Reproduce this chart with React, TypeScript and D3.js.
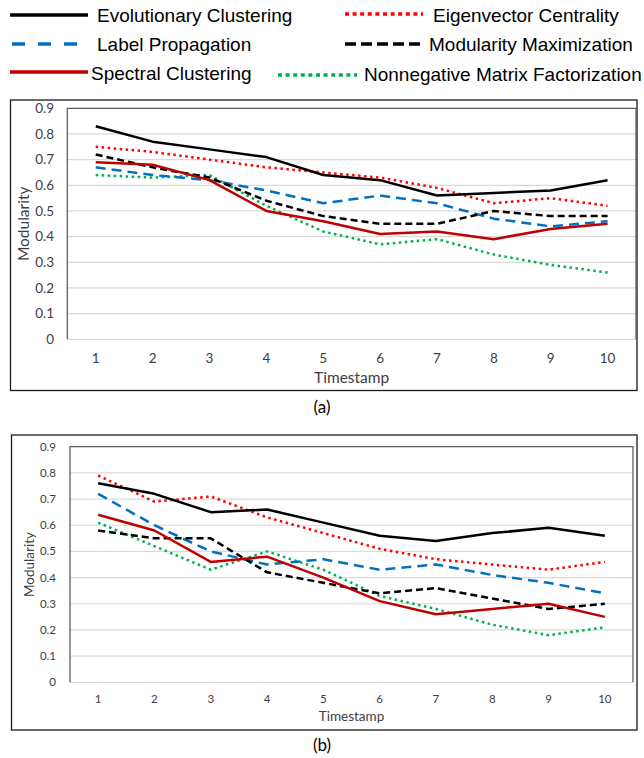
import React from "react";
import * as d3 from "d3";

const timestamps = [1, 2, 3, 4, 5, 6, 7, 8, 9, 10];
const yTicks = [0, 0.1, 0.2, 0.3, 0.4, 0.5, 0.6, 0.7, 0.8, 0.9];

// chart (a)
const evolutionaryA = [0.83, 0.77, 0.74, 0.71, 0.64, 0.62, 0.56, 0.57, 0.58, 0.62];
const eigenvectorA = [0.75, 0.73, 0.70, 0.67, 0.65, 0.63, 0.59, 0.53, 0.55, 0.52];
const labelPropA = [0.67, 0.64, 0.62, 0.58, 0.53, 0.56, 0.53, 0.47, 0.44, 0.46];
const modMaxA = [0.72, 0.67, 0.63, 0.54, 0.48, 0.45, 0.45, 0.50, 0.48, 0.48];
const spectralA = [0.69, 0.68, 0.62, 0.50, 0.46, 0.41, 0.42, 0.39, 0.43, 0.45];
const nmfA = [0.64, 0.63, 0.64, 0.52, 0.42, 0.37, 0.39, 0.33, 0.29, 0.26];

// chart (b)
const evolutionaryB = [0.76, 0.72, 0.65, 0.66, 0.61, 0.56, 0.54, 0.57, 0.59, 0.56];
const eigenvectorB = [0.79, 0.69, 0.71, 0.63, 0.57, 0.51, 0.47, 0.45, 0.43, 0.46];
const labelPropB = [0.72, 0.60, 0.50, 0.45, 0.47, 0.43, 0.45, 0.41, 0.38, 0.34];
const modMaxB = [0.58, 0.55, 0.55, 0.42, 0.38, 0.34, 0.36, 0.32, 0.28, 0.30];
const spectralB = [0.64, 0.58, 0.46, 0.48, 0.40, 0.31, 0.26, 0.28, 0.30, 0.25];
const nmfB = [0.61, 0.52, 0.43, 0.50, 0.43, 0.33, 0.28, 0.22, 0.18, 0.21];

type Style = { color: string; dash?: string; legendDash?: string };

const styles: Record<string, Style> = {
    "Evolutionary Clustering": {color: "#000000"},
    "Label Propagation": {color: "#0070c0", dash: "10,6", legendDash: "13,13"},
    "Spectral Clustering": {color: "#c00000"},
    "Eigenvector Centrality": {color: "#ff0000", dash: "2.5,3.5", legendDash: "4,3.6"},
    "Modularity Maximization": {color: "#000000", dash: "7,4", legendDash: "11,5"},
    "Nonnegative Matrix Factorization": {color: "#00b050", dash: "2.5,3.5", legendDash: "4,3.6"},
};

// draw order (bottom first)
const seriesA: [string, number[]][] = [
    ["Nonnegative Matrix Factorization", nmfA],
    ["Label Propagation", labelPropA],
    ["Modularity Maximization", modMaxA],
    ["Spectral Clustering", spectralA],
    ["Eigenvector Centrality", eigenvectorA],
    ["Evolutionary Clustering", evolutionaryA],
];
const seriesB: [string, number[]][] = [
    ["Nonnegative Matrix Factorization", nmfB],
    ["Label Propagation", labelPropB],
    ["Modularity Maximization", modMaxB],
    ["Spectral Clustering", spectralB],
    ["Eigenvector Centrality", eigenvectorB],
    ["Evolutionary Clustering", evolutionaryB],
];

const legendItems = [
    {name: "Evolutionary Clustering", x1: 10, x2: 88, ly: 15, tx: 97, ty: 21.5},
    {name: "Label Propagation", x1: 12, x2: 80, ly: 44, tx: 97, ty: 50.5},
    {name: "Spectral Clustering", x1: 10, x2: 88, ly: 72, tx: 91, ty: 79.5},
    {name: "Eigenvector Centrality", x1: 345, x2: 423, ly: 14, tx: 433, ty: 21.5},
    {name: "Modularity Maximization", x1: 345, x2: 423, ly: 44, tx: 429, ty: 50.5},
    {name: "Nonnegative Matrix Factorization", x1: 278, x2: 357, ly: 75, tx: 364, ty: 80.5},
];

const chartFont = "Lato, 'Open Sans', sans-serif";

type ChartProps = {
    series: [string, number[]][];
    frame: { x0: number; y0: number; x1: number; y1: number };
    plot: { left: number; right: number; top: number; bottom: number };
    tickSize: number;
    titleSize: number;
    tickLabelX: number;
    xLabelY: number;
    titleY: number;
    yTitleX: number;
};

const Chart = ({series, frame, plot, tickSize, titleSize, tickLabelX, xLabelY, titleY, yTitleX}: ChartProps) => {
    const xScale = d3.scaleBand<number>()
        .domain(timestamps)
        .range([plot.left, plot.right])
        .padding(0);
    const yScale = d3.scaleLinear()
        .domain([0, 0.9])
        .range([plot.bottom, plot.top]);
    const cx = (t: number) => xScale(t)! + xScale.bandwidth() / 2;

    const line = d3.line<number>()
        .x((_, i) => cx(timestamps[i]))
        .y(d => yScale(d));

    return (
        <g>
            <rect x={frame.x0} y={frame.y0} width={frame.x1 - frame.x0} height={frame.y1 - frame.y0}
                  fill="white" stroke="#1a1a1a" strokeWidth={1.3}/>
            {yTicks.map(t => (
                <line key={t} x1={plot.left} x2={plot.right} y1={yScale(t)} y2={yScale(t)}
                      stroke="#d9d9d9" strokeWidth={1.2}/>
            ))}
            <path d={`M${plot.left},${plot.bottom}V${plot.top}H${plot.right}V${plot.bottom}`}
                  fill="none" stroke="#5f5f5f" strokeWidth={1.3}/>
            {yTicks.map(t => (
                <text key={t} x={tickLabelX} y={yScale(t)} dy="0.35em" textAnchor="end"
                      fontSize={tickSize} fill="#404040" fontFamily={chartFont}>
                    {t === 0 ? "0" : t.toFixed(1)}
                </text>
            ))}
            {timestamps.map(t => (
                <text key={t} x={cx(t)} y={xLabelY} dy="0.35em" textAnchor="middle"
                      fontSize={tickSize} fill="#404040" fontFamily={chartFont}>
                    {t}
                </text>
            ))}
            <text x={(plot.left + plot.right) / 2} y={titleY} dy="0.35em" textAnchor="middle"
                  fontSize={titleSize} fill="#404040" fontFamily={chartFont}>Timestamp</text>
            <text transform={`translate(${yTitleX},${(plot.top + plot.bottom) / 2}) rotate(-90)`}
                  dy="0.35em" textAnchor="middle" fontSize={titleSize} fill="#404040"
                  fontFamily={chartFont}>Modularity</text>
            {series.map(([name, values]) => {
                const s = styles[name];
                return (
                    <path key={name} d={line(values) || ""} fill="none" stroke={s.color}
                          strokeWidth={2.5} strokeDasharray={s.dash}
                          strokeLinejoin="round"/>
                );
            })}
        </g>
    );
};

const App = () => {
    return (
        <svg width={644} height={758} style={{position: "absolute", left: 0, top: 0}}>
            <rect width={644} height={758} fill="white"/>
            {legendItems.map(item => {
                const s = styles[item.name];
                return (
                    <g key={item.name}>
                        <line x1={item.x1} x2={item.x2} y1={item.ly} y2={item.ly} stroke={s.color}
                              strokeWidth={3.3} strokeDasharray={s.legendDash}/>
                        <text x={item.tx} y={item.ty} fontSize={19} fill="#000"
                              fontFamily="'Liberation Sans', Arial, sans-serif">{item.name}</text>
                    </g>
                );
            })}
            <Chart series={seriesA}
                   frame={{x0: 10.5, y0: 100, x1: 637, y1: 390.5}}
                   plot={{left: 67.3, right: 636, top: 108.3, bottom: 339.3}}
                   tickSize={13.5} titleSize={15.5} tickLabelX={54} xLabelY={358} titleY={377.5} yTitleX={24}/>
            <text x={322} y={407} dy="0.35em" textAnchor="middle" fontSize={17} fontFamily={chartFont}
                  fill="#000">(a)</text>
            <Chart series={seriesB}
                   frame={{x0: 11.5, y0: 435, x1: 637, y1: 730}}
                   plot={{left: 70, right: 633, top: 446.7, bottom: 682.3}}
                   tickSize={11.5} titleSize={13.5} tickLabelX={56} xLabelY={698.5} titleY={716.5} yTitleX={29.5}/>
            <text x={322} y={745} dy="0.35em" textAnchor="middle" fontSize={17} fontFamily={chartFont}
                  fill="#000">(b)</text>
        </svg>
    );
};

export default App;
